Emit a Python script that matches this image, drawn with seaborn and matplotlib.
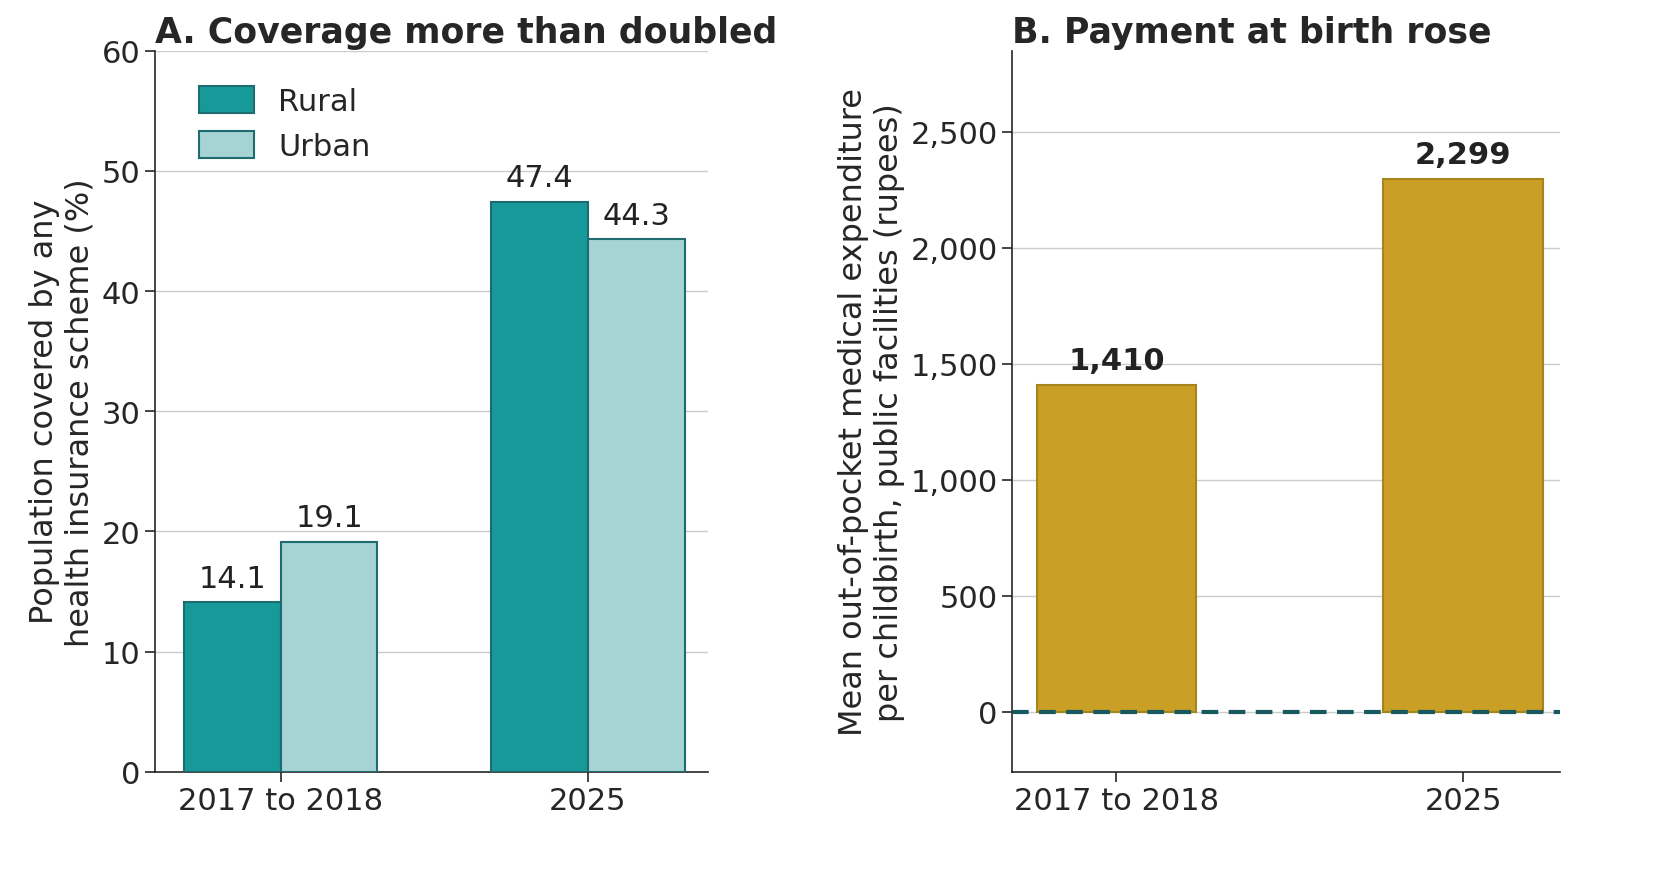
import matplotlib
matplotlib.use("Agg")
import matplotlib.pyplot as plt
import seaborn as sns
import pandas as pd

periods = ["2017 to 2018", "2025"]
areas = ["Rural", "Urban"]
rural = [14.1, 47.4]
urban = [19.1, 44.3]
payment = [1410, 2299]

sns.set_theme(style="ticks")
plt.rcParams['font.family'] = ['DejaVu Sans']

dfa = pd.DataFrame({"period": periods * 2, "area": ["Rural"] * 2 + ["Urban"] * 2,
                    "value": rural + urban})
dfb = pd.DataFrame({"period": periods, "value": payment})

fig = plt.figure(figsize=(16.65, 8.78), dpi=100)
ax1 = fig.add_axes([0.093, 0.12, 0.332, 0.821])
ax2 = fig.add_axes([0.608, 0.12, 0.329, 0.821])

teal = "#17999a"
light = "#a6d4d4"
edge = "#1e6b70"
gold = "#c99f26"

sns.barplot(data=dfa, x="period", y="value", hue="area", order=periods, hue_order=areas,
            palette=[teal, light], width=0.63, ax=ax1, edgecolor=edge, linewidth=1.5,
            saturation=1, zorder=3)
for c in ax1.containers:
    ax1.bar_label(c, fmt="%.1f", padding=7, fontsize=22, color="#222222")
ax1.set_ylim(0, 60)
ax1.set_xlim(-0.41, 1.39)
ax1.set_yticks(range(0, 61, 10))
ax1.yaxis.grid(True, color="#cccccc", lw=1, zorder=0)
ax1.set_xlabel("")
ax1.set_ylabel("Population covered by any\nhealth insurance scheme (%)", fontsize=23)
ax1.set_title("A. Coverage more than doubled", loc="left", fontsize=25, fontweight="bold")
leg = ax1.legend(title=None, fontsize=22, frameon=False, loc="upper left",
                 bbox_to_anchor=(0.03, 0.99), handlelength=1.8, handleheight=1.0)

sns.barplot(data=dfb, x="period", y="value", order=periods, color=gold, width=0.46,
            ax=ax2, edgecolor="#a8851c", linewidth=1.5, saturation=1, zorder=3)
for c in ax2.containers:
    ax2.bar_label(c, labels=[f"{v:,.0f}" for v in payment], padding=7, fontsize=22,
                  fontweight="bold", color="#222222")
ax2.set_ylim(-259, 2850)
ax2.set_xlim(-0.30, 1.28)
ax2.set_yticks(range(0, 2501, 500))
ax2.set_yticklabels([f"{v:,}" for v in range(0, 2501, 500)])
ax2.yaxis.grid(True, color="#cccccc", lw=1, zorder=0)
ax2.axhline(0, color="#17595e", lw=3, ls=(0, (4, 2.5)), zorder=4)
ax2.set_xlabel("")
ax2.set_ylabel("Mean out-of-pocket medical expenditure\nper childbirth, public facilities (rupees)", fontsize=23)
ax2.set_title("B. Payment at birth rose", loc="left", fontsize=25, fontweight="bold")

for ax in (ax1, ax2):
    sns.despine(ax=ax)
    ax.tick_params(labelsize=22, length=7, width=1.2)
    for s in ax.spines.values():
        s.set_linewidth(1.2)

fig.savefig("out.png", dpi=100)
